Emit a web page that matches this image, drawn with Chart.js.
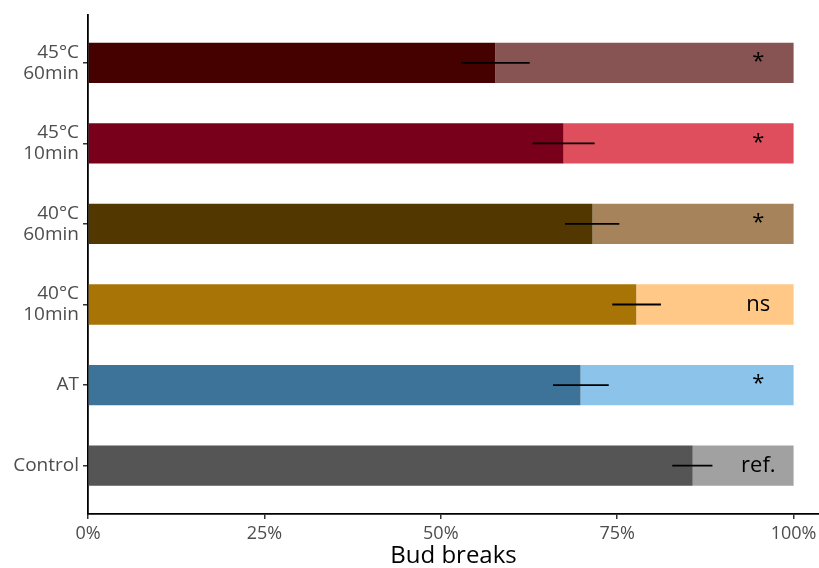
<!DOCTYPE html>
<html>
<head>
<meta charset="utf-8">
<script src="https://cdn.jsdelivr.net/npm/chart.js@4"></script>
<style>
  html, body { margin: 0; padding: 0; background: #ffffff; }
  #wrap { width: 819px; height: 568px; }
</style>
</head>
<body>
<div id="wrap"><canvas id="c" width="819" height="568"></canvas></div>
<script>
// Treatments, top to bottom
const categories = [['45°C', '60min'], ['45°C', '10min'], ['40°C', '60min'], ['40°C', '10min'], 'AT', 'Control'];
// Share of buds that broke (%)
const budBreak = [57.7, 67.4, 71.5, 77.7, 69.8, 85.7];
// Error bar limits (%)
const errLow  = [52.9, 63.0, 67.6, 74.3, 65.9, 82.8];
const errHigh = [62.6, 71.8, 75.3, 81.2, 73.8, 88.5];
// Significance versus control
const signif = ['*', '*', '*', 'ns', '*', 'ref.'];
// X axis ticks (%)
const xTicks = [0, 25, 50, 75, 100];

const darkColors  = ['#450000', '#79001B', '#523800', '#A77405', '#3D7398', '#555555'];
const lightColors = ['#885353', '#DE4E5C', '#A7835C', '#FFC886', '#8BC3EA', '#A1A1A1'];

const FONT = '"Open Sans", "Noto Sans", sans-serif';

// Position of each treatment on the (numeric) category axis
const rows = categories.map((_, i) => i);
const breakPoints = budBreak.map((v, i) => ({ x: v, y: rows[i] }));
const restPoints = budBreak.map((v, i) => ({ x: 100 - v, y: rows[i] }));

const errorAndLabels = {
  id: 'errorAndLabels',
  afterDatasetsDraw(chart) {
    const { ctx, scales: { x, y } } = chart;
    ctx.save();
    ctx.strokeStyle = '#000000';
    ctx.lineWidth = 1.8;
    ctx.lineCap = 'butt';
    rows.forEach(i => {
      const py = y.getPixelForValue(i);
      ctx.beginPath();
      ctx.moveTo(x.getPixelForValue(errLow[i]), py);
      ctx.lineTo(x.getPixelForValue(errHigh[i]), py);
      ctx.stroke();
    });
    ctx.fillStyle = '#000000';
    ctx.textAlign = 'center';
    ctx.textBaseline = 'middle';
    ctx.font = '22px ' + FONT;
    signif.forEach((s, i) => {
      const py = y.getPixelForValue(i);
      ctx.fillText(s, x.getPixelForValue(95), s === '*' ? py - 1 : py);
    });
    ctx.restore();
  }
};

new Chart(document.getElementById('c'), {
  type: 'bar',
  data: {
    labels: categories,
    datasets: [
      {
        label: 'Bud breaks',
        data: breakPoints,
        backgroundColor: darkColors,
        borderWidth: 0,
        barPercentage: 0.5,
        categoryPercentage: 1
      },
      {
        label: 'No break',
        data: restPoints,
        backgroundColor: lightColors,
        borderWidth: 0,
        barPercentage: 0.5,
        categoryPercentage: 1
      }
    ]
  },
  options: {
    indexAxis: 'y',
    responsive: false,
    animation: false,
    layout: { padding: { left: 0, right: 0, top: 14, bottom: 0 } },
    plugins: {
      legend: { display: false },
      tooltip: { enabled: false }
    },
    scales: {
      x: {
        type: 'linear',
        stacked: true,
        min: 0,
        max: 103.6,
        afterBuildTicks(scale) { scale.ticks = xTicks.map(v => ({ value: v })); },
        afterFit(scale) {
          scale.height = 54;
          scale.paddingRight = 0;
        },
        grid: {
          drawOnChartArea: false,
          drawTicks: true,
          tickLength: 5,
          color: '#333333',
          lineWidth: 1.5
        },
        border: { display: true, color: '#000000', width: 1.8 },
        ticks: {
          padding: 4,
          color: '#4D4D4D',
          font: { family: FONT, size: 18 },
          callback: v => v + '%'
        },
        title: {
          display: true,
          text: 'Bud breaks',
          color: '#000000',
          font: { family: FONT, size: 24, lineHeight: 1.0 },
          padding: { top: 0, bottom: 0 }
        }
      },
      y: {
        type: 'linear',
        stacked: true,
        reverse: true,
        offset: false,
        min: -0.6,
        max: 5.6,
        afterBuildTicks(scale) { scale.ticks = rows.map(v => ({ value: v })); },
        afterFit(scale) { scale.width = 88; },
        grid: {
          offset: false,
          drawOnChartArea: false,
          drawTicks: true,
          tickLength: 5,
          color: '#333333',
          lineWidth: 1.5
        },
        border: { display: true, color: '#000000', width: 1.8 },
        ticks: {
          padding: 4,
          color: '#4D4D4D',
          font: { family: FONT, size: 19, lineHeight: 1.1 },
          callback: v => categories[v]
        }
      }
    }
  },
  plugins: [errorAndLabels]
});
</script>
</body>
</html>
